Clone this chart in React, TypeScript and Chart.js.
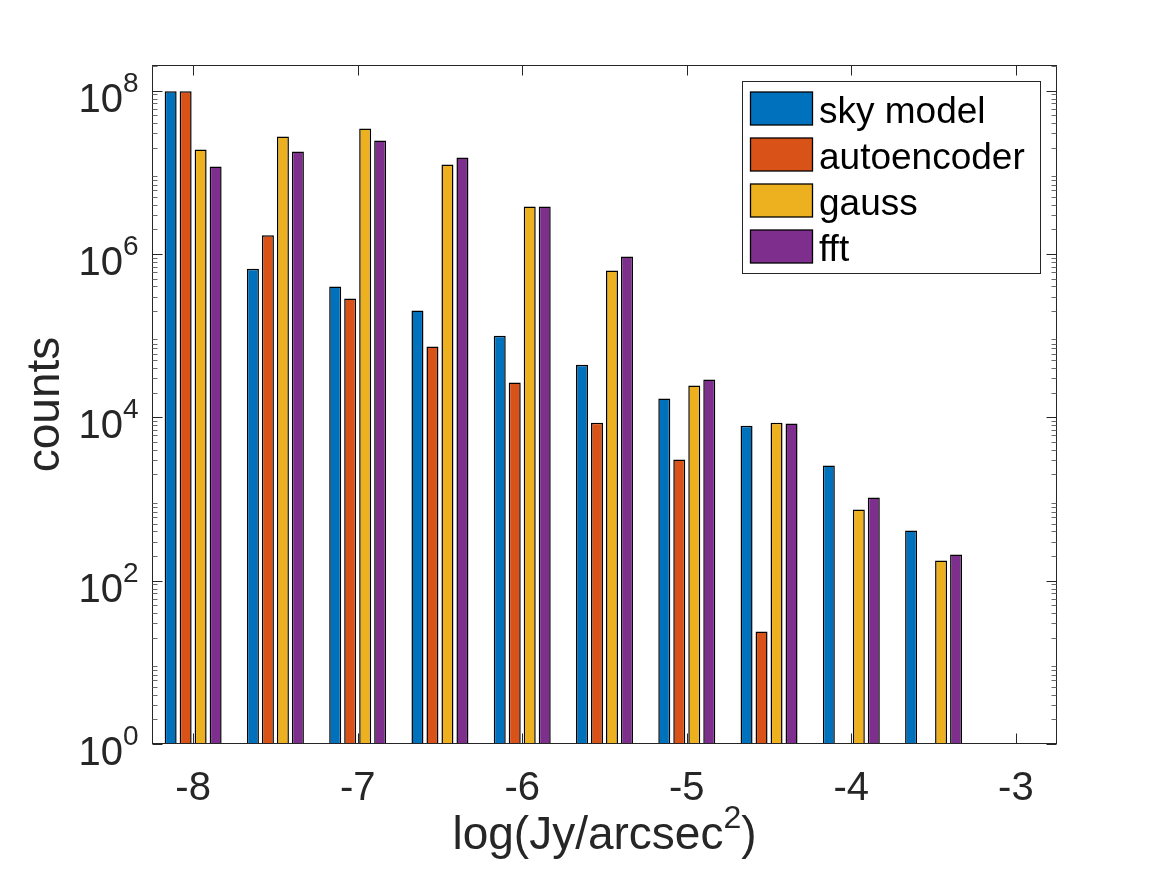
import React, { useEffect, useRef } from "react";
import { Chart, registerables } from "chart.js";

Chart.register(...registerables);

// ---- data ----
const binCenters = [-8, -7.5, -7, -6.5, -6, -5.5, -5, -4.5, -4, -3.5];
const seriesNames = ["sky model", "autoencoder", "gauss", "fft"];
const skyModel = [9.8e7, 6.6e5, 4.0e5, 2.03e5, 1.0e5, 4.4e4, 1.7e4, 7.9e3, 2.57e3, 411];
const autoencoder = [9.8e7, 1.69e6, 2.85e5, 7.36e4, 2.67e4, 8.6e3, 3.04e3, 23.8, null, null];
const gauss = [1.9e7, 2.75e7, 3.44e7, 1.25e7, 3.82e6, 6.28e5, 2.45e4, 8.6e3, 743, 176];
const fft = [1.18e7, 1.8e7, 2.45e7, 1.52e7, 3.82e6, 9.33e5, 2.9e4, 8.4e3, 1.04e3, 209];
const xTicks = [-8, -7, -6, -5, -4, -3];
const yTickExponents = [0, 2, 4, 6, 8];
const xTitleMain = "log(Jy/arcsec";
const xTitleSup = "2";
const xTitleEnd = ")";
const yTitle = "counts";

const seriesColors = ["#0072BD", "#D95319", "#EDB120", "#7E2F8E"];
const AXIS = "#262626";
const FONT = '"Liberation Sans", Arial, Helvetica, sans-serif';

const allSeries = [skyModel, autoencoder, gauss, fft];

const axesPlugin = {
  id: "matlabAxes",
  afterDraw(chart: any) {
    const { ctx, chartArea: a, scales } = chart;
    const xs = scales.x;
    const ys = scales.y;
    const L = Math.round(a.left) + 0.5;
    const R = Math.round(a.right) - 0.5;
    const T = Math.round(a.top) + 0.5;
    const B = Math.round(a.bottom) - 0.5;
    ctx.save();
    ctx.strokeStyle = AXIS;
    ctx.lineWidth = 1;
    ctx.strokeRect(L, T, R - L, B - T);

    const major = 10;
    const minor = 5;
    ctx.beginPath();
    xTicks.forEach((v) => {
      const px = Math.round(xs.getPixelForValue(v)) + 0.5;
      ctx.moveTo(px, B);
      ctx.lineTo(px, B - major);
      ctx.moveTo(px, T);
      ctx.lineTo(px, T + major);
    });
    yTickExponents.forEach((e) => {
      const py = Math.round(ys.getPixelForValue(Math.pow(10, e))) + 0.5;
      ctx.moveTo(L, py);
      ctx.lineTo(L + major, py);
      ctx.moveTo(R, py);
      ctx.lineTo(R - major, py);
    });
    ctx.stroke();

    ctx.beginPath();
    ctx.strokeStyle = "#6a6a6a";
    const maxV = ys.max;
    for (let k = 0; k <= 8; k++) {
      for (let m = 2; m <= 9; m++) {
        const v = m * Math.pow(10, k);
        if (v > maxV) continue;
        const py = Math.round(ys.getPixelForValue(v)) + 0.5;
        ctx.moveTo(L, py);
        ctx.lineTo(L + minor, py);
        ctx.moveTo(R, py);
        ctx.lineTo(R - minor, py);
      }
    }
    ctx.stroke();

    ctx.fillStyle = AXIS;
    ctx.font = `40px ${FONT}`;
    ctx.textAlign = "center";
    ctx.textBaseline = "alphabetic";
    xTicks.forEach((v) => {
      const px = xs.getPixelForValue(v);
      ctx.fillText(String(v), px, 800);
    });

    yTickExponents.forEach((e) => {
      const py = ys.getPixelForValue(Math.pow(10, e));
      ctx.font = `28px ${FONT}`;
      const expW = ctx.measureText(String(e)).width;
      ctx.font = `40px ${FONT}`;
      const baseW = ctx.measureText("10").width;
      const right = L - 14;
      ctx.textAlign = "left";
      const baseX = right - expW - baseW;
      const baseline = py + 21;
      ctx.fillText("10", baseX, baseline);
      ctx.font = `28px ${FONT}`;
      ctx.fillText(String(e), baseX + baseW, baseline - 20);
    });

    ctx.font = `46px ${FONT}`;
    const w1 = ctx.measureText(xTitleMain).width;
    const w3 = ctx.measureText(xTitleEnd).width;
    ctx.font = `32px ${FONT}`;
    const w2 = ctx.measureText(xTitleSup).width;
    const total = w1 + w2 + w3;
    const cx = (a.left + a.right) / 2;
    const sx = cx - total / 2;
    const tb = 849;
    ctx.textAlign = "left";
    ctx.font = `46px ${FONT}`;
    ctx.fillText(xTitleMain, sx, tb);
    ctx.font = `32px ${FONT}`;
    ctx.fillText(xTitleSup, sx + w1, tb - 21);
    ctx.font = `46px ${FONT}`;
    ctx.fillText(xTitleEnd, sx + w1 + w2, tb);

    ctx.save();
    ctx.translate(59, (a.top + a.bottom) / 2);
    ctx.rotate(-Math.PI / 2);
    ctx.textAlign = "center";
    ctx.textBaseline = "alphabetic";
    ctx.font = `46px ${FONT}`;
    ctx.fillText(yTitle, 0, 0);
    ctx.restore();

    const lx = 742.5;
    const ly = 81.5;
    const lw = 298;
    const lh = 192;
    ctx.fillStyle = "#ffffff";
    ctx.fillRect(lx, ly, lw, lh);
    ctx.strokeStyle = AXIS;
    ctx.lineWidth = 1;
    ctx.strokeRect(lx, ly, lw, lh);
    chart.data.datasets.forEach((ds: any, i: number) => {
      const rowC = 108.5 + i * 46;
      ctx.fillStyle = ds.backgroundColor;
      ctx.fillRect(750.5, rowC - 16.5, 62, 33);
      ctx.strokeStyle = "#000";
      ctx.lineWidth = 1.3;
      ctx.strokeRect(750.5, rowC - 16.5, 62, 33);
      ctx.fillStyle = "#000";
      ctx.font = `37px ${FONT}`;
      ctx.textAlign = "left";
      ctx.textBaseline = "alphabetic";
      ctx.fillText(ds.label, 819, rowC + 14);
    });
    ctx.restore();
  },
};

export default function App() {
  const ref = useRef<HTMLCanvasElement | null>(null);
  useEffect(() => {
    if (!ref.current) return;
    const chart = new Chart(ref.current, {
      type: "bar",
      data: {
        datasets: allSeries.map((vals, i) => ({
          label: seriesNames[i],
          data: binCenters.map((x, j) => ({ x, y: vals[j] })),
          backgroundColor: seriesColors[i],
          borderColor: "#000000",
          borderWidth: 1.5,
          categoryPercentage: 0.729,
          barPercentage: 0.8,
        })),
      },
      options: {
        responsive: false,
        animation: false,
        layout: { padding: { left: 152, top: 65, right: 110, bottom: 131 } },
        plugins: {
          legend: { display: false },
          tooltip: { enabled: false },
        },
        scales: {
          x: { type: "linear", display: false, offset: false, min: -8.25, max: -2.75 },
          y: { type: "logarithmic", display: false, min: 1, max: 2.06e8 },
        },
      } as any,
      plugins: [axesPlugin],
    } as any);
    return () => chart.destroy();
  }, []);
  return (
    <div style={{ position: "absolute", left: 0, top: 0, width: 1167, height: 875, background: "#fff" }}>
      <canvas ref={ref} width={1167} height={875} />
    </div>
  );
}
